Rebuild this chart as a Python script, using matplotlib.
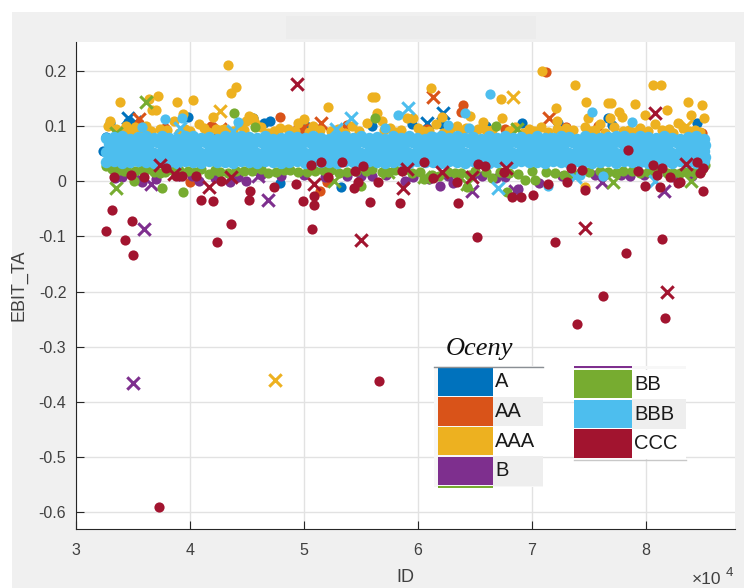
import numpy as np
import matplotlib
matplotlib.use('Agg')
import matplotlib.pyplot as plt
from matplotlib.patches import Rectangle

# ID em unidades de 10^4
labels = ['A', 'AA', 'AAA', 'B', 'BB', 'BBB', 'CCC']
cores = ['#0072BD', '#D95319', '#EDB120', '#7E2F8E', '#77AC30', '#4DBEEE', '#A2142F']

A_x = [3.98, 4.65, 4.70, 4.79, 5.32, 6.91, 6.60, 8.45, 7.23, 7.67, 4.55, 3.26, 3.24, 5.02, 5.95, 3.30, 3.46, 5.60, 6.20, 7.70]
A_y = [.117, .106, .109, -.004, -.010, .106, .099, .105, .105, .114, .115, .080, .055, .100, .103, .106, .108, .100, .104, .102]
AA_x = [4.79, 4.00, 6.39, 6.38, 7.12, 8.49, 6.08, 6.76, 5.20, 5.14, 4.98, 3.55, 4.95, 7.30, 4.18, 3.78, 5.38, 7.58]
AA_y = [.117, -.002, .137, .126, .197, .088, .094, .094, -.002, -.018, .094, .105, .098, .098, .100, .097, .101, .100]
AAA_x = [3.39, 3.64, 3.72, 3.67, 3.70, 3.89, 4.03, 4.33, 4.40, 4.36, 4.20, 3.94, 5.21, 5.60, 4.52, 4.55,
         4.49, 4.57, 3.30, 3.28, 3.44, 3.61, 4.08, 3.86, 5.00, 4.95, 5.55, 4.79, 4.23, 3.74, 3.96,
         6.11, 6.73, 7.09, 7.38, 7.47, 7.67, 7.69, 7.90, 8.06, 8.13, 8.37, 8.49, 8.18, 7.99, 8.39,
         8.51, 7.76, 7.79, 7.21, 7.22, 6.74, 6.46, 6.57, 6.21, 5.96, 5.90, 5.64, 5.62, 7.49, 7.60,
         7.68, 8.08, 8.28, 7.08, 7.46, 7.22, 5.68, 6.34, 6.53, 6.16, 6.10, 7.46,
         3.35, 3.52, 3.80, 4.12, 4.30, 4.43, 4.62, 4.86, 5.08, 5.30, 5.42, 5.75, 5.85, 6.00, 6.28,
         6.42, 6.65, 6.85, 6.97, 7.30, 7.55, 7.72, 7.85, 7.95, 8.20, 8.32, 8.43,
         3.40, 3.48, 3.57, 3.66, 3.90, 4.00, 4.16, 4.27, 4.38, 4.47, 4.68, 4.74, 4.92, 5.04, 5.14,
         5.24, 5.36, 5.48, 5.70, 5.80, 6.04, 6.22, 6.38, 6.48, 6.60, 6.80, 6.92, 7.02, 7.14, 7.26,
         7.36, 7.52, 7.64, 7.80, 7.90, 8.02, 8.14, 8.24, 8.38, 8.47]
AAA_y = [.144, .149, .155, .129, .129, .144, .147, .210, .170, .159, .117, .121, .134, .153, .118, .115,
         .109, .106, .109, .100, .100, .100, .103, .109, .112, .106, .106, .097, .094, .094, .094,
         .168, .149, .200, .175, .144, .141, .142, .140, .174, .174, .144, .137, .129, .120, .120,
         .115, .125, .117, .132, .109, .115, .118, .108, .117, .114, .114, .124, .153, .115, .103,
         .114, .103, .105, .098, .098, .094, .109, .100, .094, .103, .091, -.011,
         .095, .098, .092, .096, .094, .101, .098, .095, .099, .094, .100, .097, .092, .096, .095,
         .097, .093, .098, .094, .096, .092, .098, .093, .097, .094, .096, .093,
         .091, .089, .092, .090, .088, .091, .089, .092, .090, .093, .088, .090, .091, .089, .092,
         .090, .088, .091, .092, .089, .090, .088, .091, .089, .092, .090, .088, .091, .089, .090,
         .092, .090, .088, .091, .089, .090, .092, .088, .091, .089]
B_x = [4.08, 4.35, 4.49, 6.19, 5.89, 6.88, 6.76, 6.56, 6.31, 5.38, 3.58, 5.60, 7.86, 3.34, 3.70, 6.48, 7.06,
       3.40, 3.52, 3.90, 4.02, 4.22, 4.42, 4.62, 4.80, 5.00, 5.18, 5.50, 5.72, 5.96, 6.10, 6.26, 6.68, 7.26, 7.55, 7.78, 7.98, 8.24, 8.40]
B_y = [0, -.002, .001, -.008, 0, -.015, .007, .010, -.004, .010, -.002, .010, .010, .006, .004, .012, -.004,
       .008, .006, .010, .009, .006, .007, .011, .009, .012, .008, .010, .012, .008, .004, .010, .006, .010, .012, .011, .012, .008, .010]
BB_x = [4.39, 4.57, 3.75, 3.94, 3.51, 3.42, 3.74, 4.17, 6.68, 5.62, 6.94, 7.03, 6.65, 6.05, 6.78, 6.43, 5.50,
        3.26, 3.32, 3.45, 3.58, 3.68, 3.84, 3.98, 4.10, 4.26, 4.40, 4.54, 4.68, 4.82, 4.95, 5.10, 5.24,
        5.38, 5.54, 5.68, 5.80, 5.95, 6.12, 6.26, 6.38, 6.50, 6.72, 6.88, 7.12, 7.28, 7.42, 7.60, 7.74,
        7.88, 8.02, 8.18, 8.30, 8.42, 8.52,
        3.38, 3.52, 3.63, 3.78, 3.90, 4.04, 4.22, 4.33, 4.47, 4.62, 4.75, 4.88, 5.03, 5.17, 5.31,
        5.46, 5.60, 5.74, 5.88, 6.02, 6.18, 6.32, 6.45, 6.60, 6.80, 7.00, 7.20, 7.35, 7.50, 7.67,
        7.80, 7.95, 8.10, 8.24, 8.36, 8.48]
BB_y = [.124, .098, -.013, -.019, .001, .018, .014, .013, .100, .114, .002, .002, .005, .004, -.019, -.010, -.008,
        .028, .022, .019, .021, .017, .020, .018, .022, .016, .019, .018, .015, .020, .016, .018, .021,
        .017, .019, .016, .020, .015, .012, .017, .014, .018, .016, .013, .017, .012, .015, .019, .014,
        .018, .016, .015, .014, .017, .030,
        .021, .018, .022, .016, .020, .017, .021, .015, .019, .022, .016, .020, .017, .021, .015,
        .019, .022, .016, .020, .017, .010, .015, .012, .016, .014, .018, .015, .013, .017, .016,
        .019, .015, .018, .014, .016, .018]
BBB_x = [3.78, 3.93, 3.58, 4.42, 6.63, 6.41, 5.82, 7.53, 7.88, 6.26, 6.45, 5.71, 7.14, 6.11, 7.42, 7.62]
BBB_y = [.112, .114, .098, .108, .157, .124, .120, .126, .108, .102, .096, .096, -.008, .082, .012, .010]
CCC_x = [3.26, 3.32, 3.43, 3.49, 3.50, 4.10, 4.20, 4.24, 4.36, 4.52, 4.53, 4.74, 4.93, 4.99, 5.07, 5.09, 5.09,
         5.58, 5.65, 3.33, 3.48, 3.60, 3.79, 3.88, 3.93, 4.05, 4.27, 5.06, 5.15, 5.33, 5.21, 5.45, 5.52,
         5.44, 5.47, 5.84, 6.35, 6.52, 7.20, 7.82, 8.14, 7.84, 6.05, 6.53, 6.59, 7.01, 6.82, 6.90, 7.14,
         7.31, 7.46, 7.34, 7.44, 7.93, 8.06, 8.14, 8.10, 7.99, 8.12, 8.21, 8.28, 8.30, 8.45, 8.50, 8.47,
         8.50, 5.86, 6.13, 6.34, 6.75, 3.73, 5.66, 7.39, 7.62, 8.17]
CCC_y = [-.091, -.052, -.106, -.073, -.133, -.034, -.036, -.110, -.077, -.035, -.017, -.010, -.005, -.036, -.087, -.043, -.027,
         -.038, -.002, .008, .011, .007, .023, .010, .010, .010, .001, .029, .034, .034, .007, .019, .028,
         -.013, -.002, -.039, -.040, -.102, -.110, -.130, -.105, .056, .034, .031, .027, -.025, -.028, -.028, -.005,
         -.001, -.016, .023, .020, .018, .030, .023, .011, -.008, -.011, .008, -.004, -.001, .034, .023, .014,
         -.017, .019, .005, -.001, .016, -.590, -.362, -.258, -.208, -.247]

# marcadores x
A_xx = [3.46, 6.22, 6.08, 3.52]
A_xy = [.114, .124, .106, .107]
AA_xx = [3.55, 4.26, 5.15, 6.13, 7.15, 4.98]
AA_xy = [.112, .094, .106, .153, .115, .094]
AAA_xx = [4.26, 6.83, 4.745, 8.35]
AAA_xy = [.127, .153, -.360, .100]
B_xx = [3.60, 3.66, 4.68, 3.50, 7.61, 8.16, 4.60, 6.47, 6.85]
B_xy = [-.087, -.005, -.034, -.365, -.001, -.017, .010, -.017, -.018]
BB_xx = [3.61, 3.35, 5.26, 3.35, 6.87, 7.71, 5.74, 6.05, 8.39, 6.43]
BB_xy = [.144, -.012, 0, .088, .094, -.001, .016, .007, 0, -.005]
BBB_xx = [5.41, 3.91, 4.38, 5.91, 6.70, 8.08, 7.38, 7.20, 5.28]
BBB_xy = [.115, .097, .090, .132, -.013, 0, .007, .076, .094]
CCC_xx = [3.74, 4.17, 4.36, 4.94, 5.09, 5.50, 3.86, 5.90, 5.87, 6.21, 6.47, 6.77, 7.46, 8.08, 8.35, 8.18]
CCC_xy = [.029, -.010, .007, .176, -.005, -.107, .013, .022, -.013, .016, .008, .023, -.085, .123, .031, -.200]

# faixa densa de BBB (estimada linha a linha)
faixa_xa = [3.26, 3.33, 3.40, 3.47, 3.54, 3.61, 3.68, 3.75, 3.82, 3.89, 3.96, 4.03, 4.10, 4.17, 4.24,
            4.31, 4.38, 4.45, 4.52, 4.59, 4.66, 4.73, 4.80, 4.87, 4.94, 5.01, 5.08, 5.15, 5.22, 5.29,
            5.36, 5.43, 5.50, 5.57, 5.64, 5.71, 5.78, 5.85, 5.92, 5.99, 6.06, 6.13, 6.20, 6.27, 6.34,
            6.41, 6.48, 6.55, 6.62, 6.69, 6.76, 6.83, 6.90, 6.97, 7.04, 7.11, 7.18, 7.25, 7.32, 7.39,
            7.46, 7.53, 7.60, 7.67, 7.74, 7.81, 7.88, 7.95, 8.02, 8.09, 8.16, 8.23, 8.30, 8.37, 8.44, 8.51]
faixa_xb = [3.29, 3.36, 3.43, 3.50, 3.57, 3.64, 3.71, 3.78, 3.85, 3.92, 3.99, 4.06, 4.13, 4.20, 4.27,
            4.34, 4.41, 4.48, 4.55, 4.62, 4.69, 4.76, 4.83, 4.90, 4.97, 5.04, 5.11, 5.18, 5.25, 5.32,
            5.39, 5.46, 5.53, 5.60, 5.67, 5.74, 5.81, 5.88, 5.95, 6.02, 6.09, 6.16, 6.23, 6.30, 6.37,
            6.44, 6.51, 6.58, 6.65, 6.72, 6.79, 6.86, 6.93, 7.00, 7.07, 7.14, 7.21, 7.28, 7.35, 7.42,
            7.49, 7.56, 7.63, 7.70, 7.77, 7.84, 7.91, 7.98, 8.05, 8.12, 8.19, 8.26, 8.33, 8.40, 8.47, 8.52]
faixa_1 = [.078, .080, .081, .077, .080, .082, .078, .081, .079, .077, .081, .082, .078, .080, .077,
           .081, .079, .082, .080, .078, .081, .077, .079, .082, .080, .078, .081, .079, .077, .080,
           .082, .078, .081, .079, .080, .077, .082, .078, .081, .079, .077, .080, .082, .078, .081,
           .079, .080, .077, .081, .079, .082, .078, .080, .077, .081, .079, .078, .082, .080, .077,
           .081, .079, .078, .080, .082, .081, .079, .082, .080, .078, .081, .079, .077, .080, .081, .076]
faixa_2 = [.068, .066, .069, .067, .065, .068, .070, .066, .068, .069, .065, .067, .070, .066, .068,
           .067, .069, .065, .068, .070, .066, .067, .069, .068, .065, .070, .066, .068, .067, .069,
           .065, .068, .070, .066, .067, .069, .068, .065, .070, .066, .068, .067, .069, .065, .068,
           .070, .066, .067, .069, .068, .065, .070, .066, .068, .067, .069, .065, .068, .070, .066,
           .067, .069, .068, .065, .070, .066, .068, .067, .069, .065, .068, .070, .066, .067, .069, .066]
faixa_3 = [.053, .055, .052, .054, .056, .053, .051, .055, .053, .052, .056, .054, .051, .055, .053,
           .054, .052, .056, .053, .051, .055, .054, .052, .053, .056, .051, .055, .053, .054, .052,
           .056, .053, .051, .055, .054, .052, .053, .056, .051, .055, .053, .054, .052, .056, .053,
           .051, .055, .054, .052, .053, .056, .051, .055, .053, .054, .052, .056, .053, .051, .055,
           .054, .052, .053, .056, .051, .055, .053, .054, .052, .056, .053, .051, .055, .054, .052, .054]
faixa_4 = [.043, .041, .044, .042, .040, .043, .045, .041, .043, .044, .040, .042, .045, .041, .043,
           .042, .044, .040, .043, .045, .041, .042, .044, .043, .040, .045, .041, .043, .042, .044,
           .040, .043, .045, .041, .042, .044, .043, .040, .045, .041, .043, .042, .044, .040, .043,
           .045, .041, .042, .044, .043, .040, .045, .041, .043, .042, .044, .040, .043, .045, .041,
           .042, .044, .043, .040, .045, .041, .043, .042, .044, .040, .043, .045, .041, .042, .044, .043]
faixa_5 = [.034, .036, .033, .035, .037, .034, .032, .036, .034, .033, .037, .035, .032, .036, .034,
           .035, .033, .037, .034, .032, .036, .035, .033, .034, .037, .032, .036, .034, .035, .033,
           .037, .034, .032, .036, .035, .033, .034, .037, .032, .036, .034, .035, .033, .037, .034,
           .032, .036, .035, .033, .034, .037, .032, .036, .034, .035, .033, .037, .034, .032, .036,
           .035, .033, .034, .037, .032, .036, .034, .035, .033, .037, .034, .032, .036, .035, .033, .036]

xticks = [3, 4, 5, 6, 7, 8]
yticks = [-.6, -.5, -.4, -.3, -.2, -.1, 0, .1, .2]
yticklabels = ['-0.6', '-0.5', '-0.4', '-0.3', '-0.2', '-0.1', '0', '0.1', '0.2']

W, H = 744, 588
plt.rcParams['font.family'] = ['Liberation Sans', 'DejaVu Sans']
fig = plt.figure(figsize=(W / 100, H / 100), dpi=100, facecolor='white')


def caixa_px(esq, dir, topo, base):
    return [esq / W, 1 - base / H, (dir - esq) / W, (base - topo) / H]


# fundo cinza da janela
fundo = fig.add_axes([0, 0, 1, 1], zorder=0)
fundo.set_xlim(0, W)
fundo.set_ylim(H, 0)
fundo.axis('off')
fundo.add_patch(Rectangle((12, 12), W - 12, H - 12, fc='#f0f0f0', ec='none'))
fundo.add_patch(Rectangle((286, 16), 250, 23, fc='#ececec', ec='none'))

ax = fig.add_axes(caixa_px(76, 735, 42, 529), zorder=1)
ax.set_facecolor('white')
ax.set_xlim(3, 8.78)
ax.set_ylim(-.63, .252)
ax.grid(True, color='#e2e2e2', lw=1)
ax.set_axisbelow(True)

pontos = [(A_x, A_y), (AA_x, AA_y), (AAA_x, AAA_y), (B_x, B_y), (BB_x, BB_y), (BBB_x, BBB_y), (CCC_x, CCC_y)]
cruzes = [(A_xx, A_xy), (AA_xx, AA_xy), (AAA_xx, AAA_xy), (B_xx, B_xy), (BB_xx, BB_xy), (BBB_xx, BBB_xy), (CCC_xx, CCC_xy)]
for i, nome in enumerate(labels):
    px, py = pontos[i]
    cx, cy = cruzes[i]
    if nome == 'BBB':
        fx = faixa_xa + faixa_xb + faixa_xa + faixa_xb + faixa_xa
        fy = faixa_1 + faixa_2 + faixa_3 + faixa_4 + faixa_5
        ax.scatter(fx, fy, s=68, color=cores[i], linewidths=0, zorder=3 + i)
    ax.scatter(px, py, s=54, color=cores[i], linewidths=0, zorder=3 + i)
    ax.scatter(cx, cy, s=80, marker='x', color=cores[i], linewidths=2.2, zorder=3 + i)

ax.set_xticks(xticks)
ax.set_xticklabels([str(t) for t in xticks])
ax.set_yticks(yticks)
ax.set_yticklabels(yticklabels)
ax.tick_params(direction='in', length=6, width=0.8, color='#262626', labelcolor='#404040', labelsize=11.5)
ax.tick_params(axis='x', pad=10)
ax.tick_params(axis='y', pad=7)
ax.spines['top'].set_visible(False)
ax.spines['right'].set_visible(False)
ax.spines['left'].set_color('#262626')
ax.spines['bottom'].set_color('#262626')
ax.set_xlabel('ID', fontsize=13, color='#404040', labelpad=8)
ax.set_ylabel('EBIT_TA', fontsize=13, color='#404040', labelpad=8)

# legenda desenhada como tabela sobre o grafico
frente = fig.add_axes([0, 0, 1, 1], zorder=2)
frente.set_xlim(0, W)
frente.set_ylim(H, 0)
frente.axis('off')
frente.patch.set_alpha(0)
frente.text(479, 349, 'Oceny', family=['Liberation Serif'], style='italic', fontsize=19, color='#111111',
            ha='center', va='center')
frente.text(692, 587, '×10', fontsize=12.5, color='#404040', ha='left', va='bottom')
frente.text(726, 579, '4', fontsize=9.5, color='#404040', ha='left', va='bottom')

frente.add_patch(Rectangle((434, 366), 109, 121, fc='#f7f7f7', ec='none'))
frente.plot([434, 543], [366.5, 366.5], color='#8a8f94', lw=1)
frente.add_patch(Rectangle((437.5, 486), 55, 1.5, fc=cores[4], ec='none'))
for i in range(4):
    topo = 366.8 + i * 29.7
    frente.add_patch(Rectangle((493, topo), 50, 29.7, fc='#eeeeee' if i % 2 else 'white', ec='none'))
    frente.add_patch(Rectangle((437.5, topo + .6), 55, 28.4, fc=cores[i], ec='none'))
    frente.text(495, topo + 15, labels[i], fontsize=14.5, color='#1a1a1a', ha='left', va='center')

frente.add_patch(Rectangle((574, 365.5), 112, 3.5, fc='#f7f7f7', ec='none'))
frente.add_patch(Rectangle((574, 365.5), 57.5, 2.5, fc=cores[3], ec='none'))
for i in range(3):
    topo = 369.5 + i * 29.7
    frente.add_patch(Rectangle((631.5, topo), 54.5, 29.7, fc='#eeeeee' if i == 1 else 'white', ec='none'))
    frente.add_patch(Rectangle((574, topo + .3), 57.5, 28.6, fc=cores[4 + i], ec='none'))
    frente.text(634, topo + 15, labels[4 + i], fontsize=14.5, color='#1a1a1a', ha='left', va='center')
frente.plot([574, 686], [460, 460], color='#c8c8c8', lw=1)

fig.savefig('out.png', dpi=100)
